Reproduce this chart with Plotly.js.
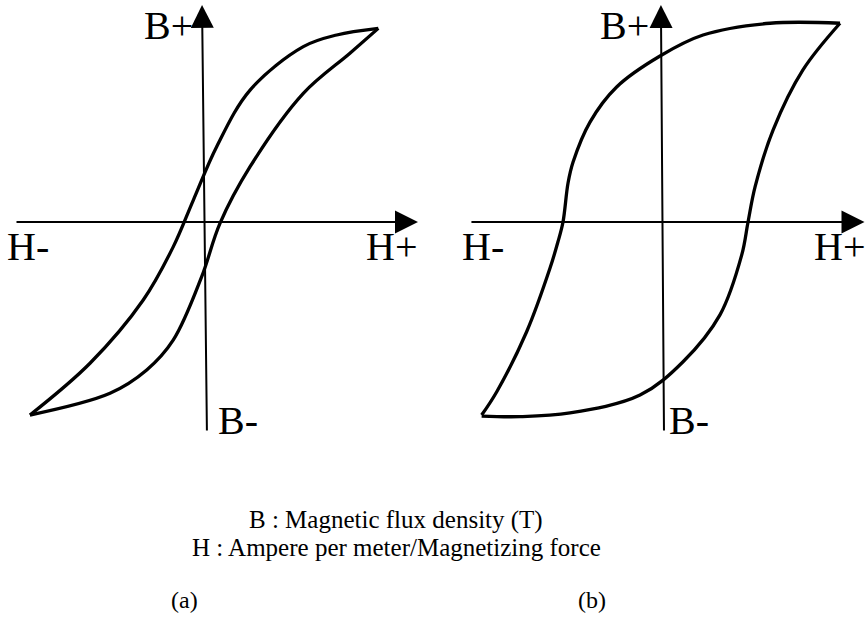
<!DOCTYPE html>
<html>
<head>
<meta charset="utf-8">
<script src="https://cdn.plot.ly/plotly-3.0.1.min.js"></script>
<style>
  body { margin: 0; background: #fff; }
  #plot { width: 865px; height: 617px; }
</style>
</head>
<body>
<div id="plot"></div>
<script>
// (a) soft material - narrow loop, H and B in relative units
let a_up_H = [0.996, 0.757, 0.565, 0.259, 0.067, -0.067, -0.182, -0.355, -0.661, -1.006]
let a_up_B = [0.998, 0.964, 0.904, 0.680, 0.388, 0.113, -0.127, -0.402, -0.728, -0.995]
let a_lo_H = [-1.006, -0.546, -0.335, -0.182, -0.019, 0.086, 0.259, 0.565, 0.833, 0.996]
let a_lo_B = [-0.995, -0.883, -0.763, -0.608, -0.282, -0.007, 0.285, 0.663, 0.870, 0.998]

// (b) hard material - wide loop
let b_up_H = [0.989, 0.600, 0.228, -0.011, -0.252, -0.400, -0.494, -0.522, -0.550, -0.578, -0.622, -0.752, -0.918, -1.002]
let b_up_B = [1.014, 1.014, 0.954, 0.847, 0.689, 0.510, 0.306, 0.199, 0.0, -0.101, -0.235, -0.560, -0.866, -0.985]
let b_lo_H = [-1.002, -0.789, -0.511, -0.122, 0.117, 0.322, 0.443, 0.478, 0.517, 0.617, 0.783, 0.989]
let b_lo_B = [-0.990, -0.993, -0.974, -0.883, -0.713, -0.474, -0.168, 0.0, 0.179, 0.469, 0.776, 1.014]

let axisLabels = ["B+", "H-", "H+", "B-"]
let caption1 = "B : Magnetic flux density (T)"
let caption2 = "H : Ampere per meter/Magnetizing force"
let panelNames = ["(a)", "(b)"]

let serif = "Liberation Serif, Times New Roman, serif"

function branch(h, b, xa, ya) {
  return {
    x: h, y: b, xaxis: xa, yaxis: ya,
    type: "scatter", mode: "lines",
    line: { color: "#000", width: 3.3, shape: "spline", smoothing: 1 },
    hoverinfo: "skip"
  }
}

let data = [
  branch(a_up_H, a_up_B, "x", "y"),
  branch(a_lo_H, a_lo_B, "x", "y"),
  branch(b_up_H, b_up_B, "x2", "y2"),
  branch(b_lo_H, b_lo_B, "x2", "y2")
]

function arrow(xr, yr, x, y, ax, ay) {
  return {
    xref: xr, yref: yr, axref: xr, ayref: yr,
    x: x, y: y, ax: ax, ay: ay, text: "",
    showarrow: true, arrowhead: 2, arrowsize: 2.3, arrowwidth: 2, arrowcolor: "#000"
  }
}

function label(txt, px, py, size) {
  return {
    xref: "paper", yref: "paper", x: px / 865, y: 1 - py / 617,
    text: txt, showarrow: false, xanchor: "center", yanchor: "middle",
    font: { family: serif, size: size, color: "#000" }
  }
}

let annotations = [
  // axis arrows
  arrow("x", "y", 1.224, 0, -1.092, 0),
  arrow("x", "y", -0.017, 1.119, 0.011, -1.082),
  arrow("x2", "y2", 1.125, 0, -1.067, 0),
  arrow("x2", "y2", -0.006, 1.107, 0.011, -1.071),
  // axis labels (a)
  label(axisLabels[0], 168, 25, 40),
  label(axisLabels[1], 28, 246, 40),
  label(axisLabels[2], 391, 246, 40),
  label(axisLabels[3], 238, 420, 40),
  // axis labels (b)
  label(axisLabels[0], 624, 25, 40),
  label(axisLabels[1], 483, 246, 40),
  label(axisLabels[2], 839, 246, 40),
  label(axisLabels[3], 689, 420, 40),
  // captions
  label(caption1, 396, 520, 25),
  label(caption2, 396, 547, 25),
  label(panelNames[0], 184, 600, 24),
  label(panelNames[1], 592, 600, 24)
]

let hidden = { visible: false, fixedrange: true }

let layout = {
  width: 865, height: 617,
  margin: { l: 0, r: 0, t: 0, b: 0 },
  paper_bgcolor: "#fff", plot_bgcolor: "rgba(0,0,0,0)",
  showlegend: false,
  xaxis: Object.assign({ domain: [0, 0.5], range: [-1.1782, 1.3075] }, hidden),
  yaxis: Object.assign({ domain: [0, 1], range: [-2.0361, 1.1443] }, hidden),
  xaxis2: Object.assign({ domain: [0.5, 1], range: [-1.275, 1.1278], anchor: "y2" }, hidden),
  yaxis2: Object.assign({ domain: [0, 1], range: [-2.0153, 1.1327], anchor: "x2" }, hidden),
  annotations: annotations
}

Plotly.newPlot("plot", data, layout, { staticPlot: true, displayModeBar: false })
</script>
</body>
</html>
